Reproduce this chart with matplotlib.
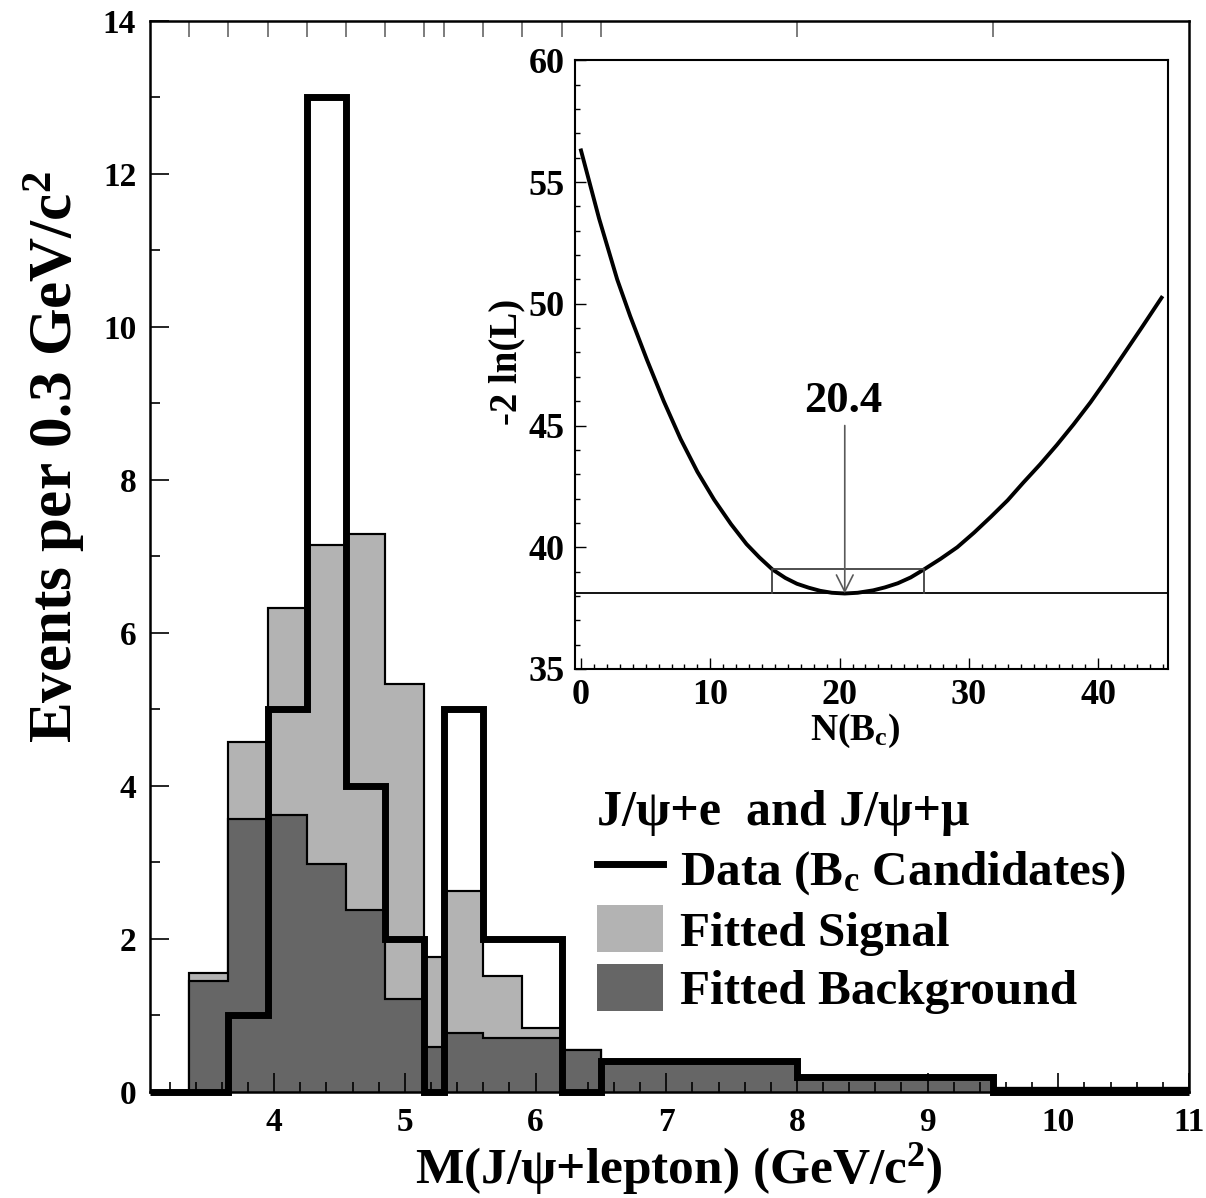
import numpy as np
import matplotlib
matplotlib.use("Agg")
from matplotlib import pyplot as plt
from matplotlib.lines import Line2D
from matplotlib.patches import Patch
from matplotlib.ticker import MultipleLocator

plt.rcParams['font.family'] = ['Liberation Serif', 'DejaVu Serif']
plt.rcParams['font.weight'] = 'bold'
plt.rcParams['axes.labelweight'] = 'bold'
plt.rcParams['mathtext.fontset'] = 'custom'
plt.rcParams['mathtext.rm'] = 'Liberation Serif:bold'
plt.rcParams['mathtext.bf'] = 'Liberation Serif:bold'
plt.rcParams['mathtext.it'] = 'Liberation Serif:bold:italic'

#%% histogram data
edges = [3.05, 3.35, 3.65, 3.95, 4.25, 4.55, 4.85, 5.15, 5.30, 5.60, 5.90, 6.20, 6.50, 8.00, 9.50, 11.0]
data = [0, 0, 1, 5, 13, 4, 2, 0, 5, 2, 2, 0, 0.4, 0.2, 0]
signal_plus_bkg = [0, 1.55, 4.57, 6.33, 7.15, 7.30, 5.33, 1.77, 2.63, 1.51, 0.84, 0.55, 0.40, 0.18, 0.05]
background = [0, 1.45, 3.57, 3.62, 2.98, 2.38, 1.22, 0.59, 0.77, 0.71, 0.71, 0.55, 0.38, 0.17, 0.05]

#%% likelihood scan
n_bc = [0, 1.4, 2.8, 3.8, 5.1, 6.4, 7.7, 9.0, 10.3, 11.6, 12.8, 13.8, 14.8, 15.8, 16.7, 17.6, 18.5, 19.4, 20.4,
        21.4, 22.6, 23.5, 24.5, 25.5, 26.5, 27.8, 29.1, 30.4, 31.7, 33.0, 34.2, 35.5, 36.8, 38.1, 39.4, 40.7,
        42.0, 43.4, 44.9]
nll = [56.3, 53.5, 51.0, 49.5, 47.7, 46.0, 44.45, 43.1, 41.95, 40.95, 40.13, 39.58, 39.09, 38.74, 38.5, 38.34,
       38.21, 38.13, 38.1, 38.13, 38.23, 38.35, 38.52, 38.76, 39.08, 39.52, 40.0, 40.6, 41.25, 41.93, 42.65,
       43.4, 44.2, 45.05, 45.95, 46.93, 47.95, 49.05, 50.25]
best_n = 20.4
err_lo = 14.8
err_hi = 26.5
nll_min = 38.1

light = '#b3b3b3'
dark = '#666666'

fig = plt.figure(figsize=(12.06, 11.98), dpi=100)
ax = fig.add_axes([0.1244, 0.0885, 0.8615, 0.894])

ax.stairs(signal_plus_bkg, edges, fill=True, facecolor=light, edgecolor='black', lw=1.5, zorder=1)
ax.stairs(signal_plus_bkg, edges, color='black', lw=1.5, zorder=1.1)
ax.stairs(background, edges, fill=True, facecolor=dark, edgecolor='black', lw=1.5, zorder=1.2)
ax.stairs(background, edges, color='black', lw=1.5, zorder=1.3)
ax.stairs(data, edges, baseline=0, color='black', lw=5, zorder=3, clip_on=False)

ax.set_xlim(3.05, 11)
ax.set_ylim(0, 14)
ax.xaxis.set_major_locator(MultipleLocator(1))
ax.xaxis.set_minor_locator(MultipleLocator(0.2))
ax.yaxis.set_major_locator(MultipleLocator(2))
ax.yaxis.set_minor_locator(MultipleLocator(1))
ax.tick_params(which='both', direction='in', labelsize=24, width=1.2)
ax.tick_params(which='major', length=14, pad=10)
ax.tick_params(which='minor', length=7)
ax.tick_params(axis='x', which='major', pad=11)
top = ax.secondary_xaxis('top')
top.set_xticks(edges[1:-1], labels=[])
top.tick_params(direction='in', length=11.5, width=1.2, color='0.4')
top.spines['top'].set_visible(False)
for s in ['left', 'right', 'top', 'bottom']:
    ax.spines[s].set_linewidth(1.8)

ax.set_xlabel("M(J/ψ+lepton) (GeV/c$^2$)", fontsize=37)
ax.xaxis.set_label_coords(0.509, -0.046)
ax.set_ylabel("Events per 0.3 GeV/c$^2$", fontsize=44)
ax.yaxis.set_label_coords(-0.061, 0.593)

handles = [Line2D([], [], color='black', lw=5),
           Patch(facecolor=light, edgecolor='none'),
           Patch(facecolor=dark, edgecolor='none')]
labels = ["Data (B$_\\mathrm{c}$ Candidates)", "Fitted Signal", "Fitted Background"]
leg = ax.legend(handles, labels, title="J/ψ+e  and J/ψ+μ", loc='upper left',
                bbox_to_anchor=(0.43, 0.282), frameon=False, fontsize=35.5,
                title_fontproperties={'size': 36, 'weight': 'bold'},
                handlelength=1.34, handleheight=1.09, handletextpad=0.35,
                labelspacing=0.17, borderpad=0, borderaxespad=0, alignment='left')

#%% inset
ax2 = fig.add_axes([0.4764, 0.4416, 0.4921, 0.508])
ax2.plot(n_bc, nll, color='black', lw=2.8)
ax2.axhline(nll_min, color='black', lw=1.3)
ax2.plot([err_lo, err_lo, err_hi, err_hi], [nll_min, nll_min + 1, nll_min + 1, nll_min], color='0.25', lw=1.3)
ax2.annotate('', xy=(best_n, nll_min), xytext=(best_n, 45.0),
             arrowprops=dict(arrowstyle='->', color='0.35', lw=1.2, mutation_scale=30, shrinkA=0, shrinkB=0))
ax2.text(best_n - 0.1, 46.0, f"{best_n}", fontsize=32, ha='center', va='center')
ax2.set_xlim(-0.5, 45.4)
ax2.set_ylim(35, 60)
ax2.xaxis.set_major_locator(MultipleLocator(10))
ax2.xaxis.set_minor_locator(MultipleLocator(1))
ax2.yaxis.set_major_locator(MultipleLocator(5))
ax2.yaxis.set_minor_locator(MultipleLocator(1))
ax2.tick_params(which='both', direction='in', labelsize=26, width=1.0)
ax2.tick_params(which='major', length=8, pad=7)
ax2.tick_params(which='minor', length=3.6)
for s in ['left', 'right', 'top', 'bottom']:
    ax2.spines[s].set_linewidth(1.5)
ax2.set_xlabel("N(B$_\\mathrm{c}$)", fontsize=27)
ax2.xaxis.set_label_coords(0.473, -0.07)
ax2.set_ylabel("-2 ln(L)", fontsize=28)
ax2.yaxis.set_label_coords(-0.082, 0.504)

fig.savefig("out.png", dpi=100)
